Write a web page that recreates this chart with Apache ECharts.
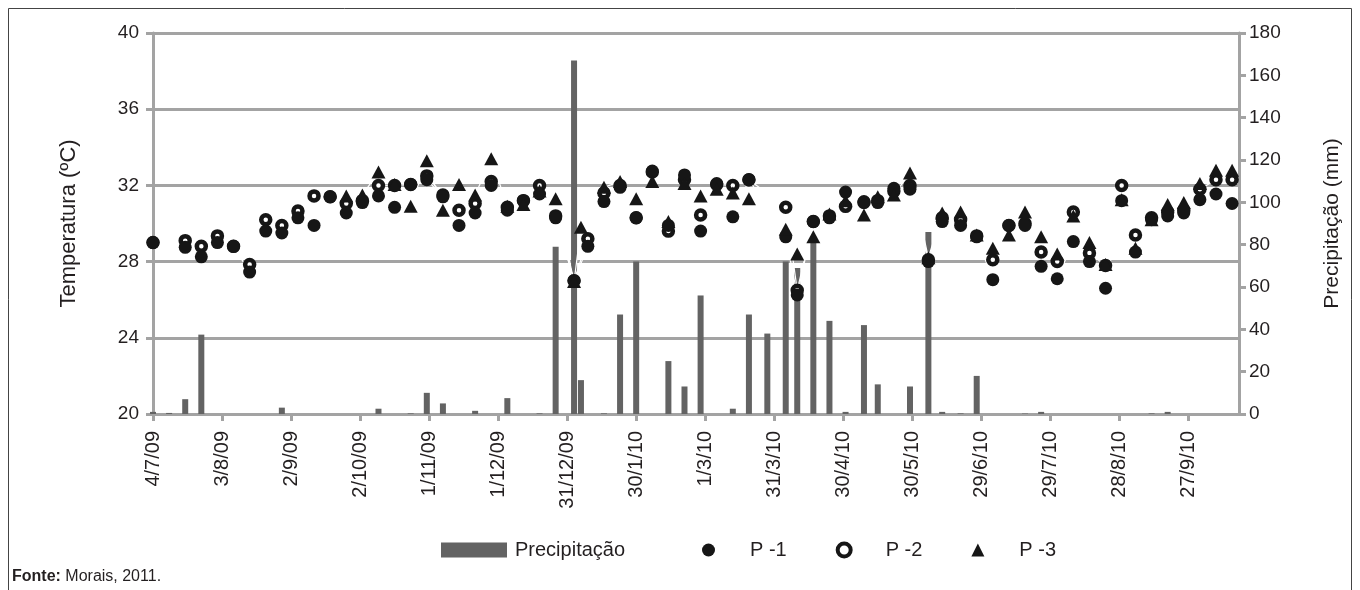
<!DOCTYPE html>
<html><head><meta charset="utf-8">
<script src="https://cdn.jsdelivr.net/npm/echarts@6/dist/echarts.min.js"></script>
<style>html,body{margin:0;padding:0;background:#fff}#c{width:1360px;height:590px}</style>
</head><body><div id="c"></div>
<script>
// x tick labels (one every 30 days from 4/7/09)
const tickLabels = ['4/7/09','3/8/09','2/9/09','2/10/09','1/11/09','1/12/09','31/12/09','30/1/10','1/3/10','31/3/10','30/4/10','30/5/10','29/6/10','29/7/10','28/8/10','27/9/10'];
// sampling dates, in days after 4/7/09
const days = [0,7,14,21,28,35,42,49,56,63,70,77,84,91,98,105,112,119,126,133,140,147,154,161,168,175,183,186,189,196,203,210,217,224,231,238,245,252,259,267,275,280,287,294,301,309,315,322,329,337,343,351,358,365,372,379,386,393,400,407,414,421,427,434,441,448,455,462,469];
// precipitation (mm)
const rain = [1,0.5,7,37.5,0,0,0,0,3,0,0,0,0,0,2.5,0,0.3,10,5,0,1.5,0,7.5,0,0.3,79,167,16,0,0.3,47,72,0,25,13,56,0,2.5,47,38,72,69,83,44,1,42,14,0,13,86,1,0.3,18,0,0,0.2,1,0,0,0,0,0,0,0.3,1,0,0,0,0];
// temperature (ºC)
const p1 = [29.0,null,28.75,28.25,29.0,28.8,27.45,29.6,29.5,30.3,29.9,31.4,30.55,31.1,31.45,30.85,32.05,32.3,31.4,29.9,30.55,32.0,30.7,31.2,31.55,30.3,27.0,null,28.8,31.15,31.9,30.3,32.75,29.9,32.55,29.6,32.1,30.35,32.3,null,29.3,26.25,30.1,30.3,31.65,31.15,31.1,31.85,31.8,28.0,30.1,29.9,29.3,27.05,29.9,29.9,27.75,27.1,29.05,28.0,26.6,31.2,28.5,30.2,30.4,30.55,31.25,31.55,31.05];
const p2 = [29.0,null,29.1,28.8,29.35,28.8,27.85,30.2,29.9,30.65,31.45,31.4,31.05,31.2,32.0,32.0,32.05,32.5,31.5,30.7,31.05,32.2,30.85,31.2,32.0,30.4,27.0,null,29.2,31.6,32.0,30.3,32.7,29.6,32.3,30.45,32.05,32.0,32.3,null,30.85,26.5,30.1,30.4,30.9,31.1,31.2,31.7,32.0,28.1,30.3,30.2,29.35,28.1,29.9,30.0,28.5,28.0,30.6,28.45,27.8,32.0,29.4,30.3,30.6,30.7,31.8,32.3,32.3];
const p3 = [null,null,null,null,null,null,null,null,null,null,null,null,31.45,31.5,32.7,32.05,30.9,33.3,30.7,32.05,31.5,33.4,30.9,31.0,31.7,31.3,26.95,29.8,null,31.9,32.2,31.3,32.2,30.1,32.1,31.45,31.8,31.6,31.3,null,29.7,28.4,29.3,30.5,31.2,30.45,31.4,31.5,32.65,28.2,30.55,30.6,29.4,28.7,29.4,30.6,29.3,28.4,30.4,29.0,27.85,31.25,28.7,30.2,31.0,31.1,32.1,32.8,32.8];

const tickDays = tickLabels.map((_, i) => i * 30);
const pair = arr => days.map((d, i) => arr[i] == null ? null : [d, arr[i]]).filter(Boolean);

const FONT = 'Liberation Sans, Arial, sans-serif';
const TXT = '#231f20';
const GRID = '#a3a3a3';
const MK = '#161616';

const chart = echarts.init(document.getElementById('c'), null, {renderer: 'canvas'});
chart.setOption({
  animation: false,
  backgroundColor: '#fff',
  textStyle: {fontFamily: FONT, color: TXT},
  grid: {left: 153, right: 121, top: 33, bottom: 176, containLabel: false},
  xAxis: {
    type: 'value', min: 0, max: 472, interval: 30,
    axisLine: {show: true, onZero: false, lineStyle: {color: GRID, width: 3}},
    axisTick: {show: true, length: 7, customValues: tickDays, lineStyle: {color: GRID, width: 3}},
    axisLabel: {rotate: 90, margin: 17, fontSize: 20, color: TXT, fontFamily: FONT, customValues: tickDays,
      formatter: v => (v % 30 === 0 && tickLabels[v / 30]) ? tickLabels[v / 30] : ''},
    splitLine: {show: false}
  },
  yAxis: [
    {type: 'value', min: 20, max: 40, interval: 4, position: 'left',
     name: 'Temperatura (ºC)', nameLocation: 'middle', nameRotate: 90, nameGap: 73,
     nameTextStyle: {fontSize: 22, color: TXT, fontFamily: FONT},
     axisLine: {show: true, lineStyle: {color: GRID, width: 3}},
     axisTick: {show: true, length: 7, lineStyle: {color: GRID, width: 3}},
     axisLabel: {fontSize: 19, color: TXT, margin: 14, fontFamily: FONT},
     splitLine: {show: true, lineStyle: {color: GRID, width: 3}}},
    {type: 'value', min: 0, max: 180, interval: 20, position: 'right',
     name: 'Precipitação (mm)', nameLocation: 'middle', nameRotate: 90, nameGap: 83,
     nameTextStyle: {fontSize: 21, color: TXT, fontFamily: FONT},
     axisLine: {show: true, lineStyle: {color: GRID, width: 3}},
     axisTick: {show: true, length: 7, lineStyle: {color: GRID, width: 3}},
     axisLabel: {fontSize: 19, color: TXT, margin: 10, fontFamily: FONT},
     splitLine: {show: false}}
  ],
  legend: [
    {left: 441, top: 540, padding: 0, itemWidth: 66, itemHeight: 15, itemGap: 0, selectedMode: false,
     textStyle: {fontSize: 20, color: TXT, fontFamily: FONT, rich: {s: {width: 3}}},
     formatter: n => '{s|}' + n,
     data: [{name: 'Precipitação', icon: 'rect'}]},
    {left: 702, top: 540, padding: 0, itemWidth: 13, itemHeight: 13, itemGap: 49, selectedMode: false,
     textStyle: {fontSize: 20, color: TXT, fontFamily: FONT, rich: {s: {width: 30}}},
     formatter: n => '{s|}' + n,
     data: [
       {name: 'P -1', icon: 'circle', itemStyle: {color: MK, borderWidth: 0}},
       {name: 'P -2', icon: 'circle', itemStyle: {color: '#fff', borderColor: MK, borderWidth: 4}},
       {name: 'P -3', icon: 'triangle', itemStyle: {color: MK, borderWidth: 0}}
     ]}
  ],
  graphic: [
    {type: 'rect', shape: {x: 8.5, y: 8.5, width: 1343, height: 640}, style: {fill: 'none', stroke: '#444', lineWidth: 1}, silent: true, z: -10},
    {type: 'text', left: 12, top: 569, style: {text: '{b|Fonte:} Morais, 2011.', fontSize: 16, fontFamily: FONT, fill: TXT,
      rich: {b: {fontWeight: 'bold', fontSize: 16, fontFamily: FONT, fill: TXT}}}}
  ],
  series: [
    {type: 'bar', name: 'Precipitação', yAxisIndex: 1, data: pair(rain), barWidth: 6,
     itemStyle: {color: '#636363'}, emphasis: {disabled: true}, z: 2},
    {type: 'line', name: 'P -2', data: pair(p2), symbol: 'circle', symbolSize: 9, showAllSymbol: true,
     itemStyle: {color: '#fff', borderColor: MK, borderWidth: 4.5},
     lineStyle: {color: '#fff', width: 1.2}, emphasis: {disabled: true}, z: 3},
    {type: 'line', name: 'P -1', data: pair(p1), symbol: 'circle', symbolSize: 13, showAllSymbol: true,
     itemStyle: {color: MK, borderWidth: 0},
     lineStyle: {color: '#fff', width: 1.2}, emphasis: {disabled: true}, z: 3},
    {type: 'line', name: 'P -3', data: pair(p3), symbol: 'triangle', symbolSize: [14, 13], showAllSymbol: true,
     itemStyle: {color: MK, borderWidth: 0},
     lineStyle: {color: '#fff', width: 1.2}, emphasis: {disabled: true}, z: 3}
  ]
});
</script></body></html>
